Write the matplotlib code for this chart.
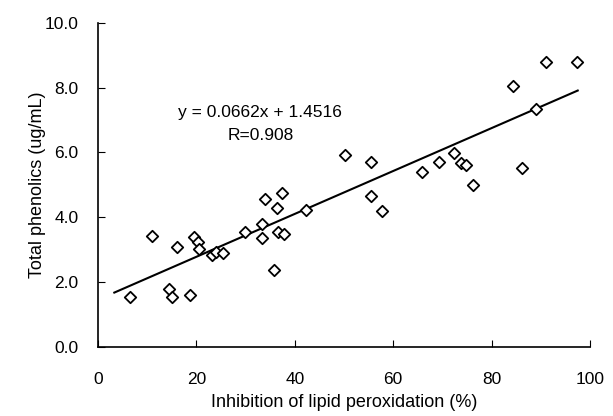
import matplotlib
matplotlib.use("Agg")
import matplotlib.pyplot as plt
import numpy as np

# --- datos ---
inhibicion = [6.5, 11.0, 14.5, 15.0, 16.0, 18.7, 19.5, 20.4, 20.6, 23.1, 24.0, 25.3,
              29.9, 33.3, 33.3, 33.9, 35.8, 36.4, 36.6, 37.3, 37.7, 42.2, 50.2, 55.4,
              55.4, 57.8, 65.9, 69.3, 72.4, 73.7, 74.7, 76.2, 84.3, 86.1, 89.0, 91.0, 97.4]
fenoles = [1.54, 3.42, 1.78, 1.54, 3.09, 1.60, 3.38, 3.24, 3.02, 2.83, 2.93, 2.88,
           3.55, 3.79, 3.35, 4.55, 2.38, 4.29, 3.55, 4.75, 3.48, 4.23, 5.92, 5.69,
           4.66, 4.20, 5.40, 5.70, 5.97, 5.68, 5.61, 4.99, 8.05, 5.52, 7.33, 8.80, 8.80]
pendiente = 0.0662
ordenada = 1.4516
r_valor = 0.908
rango_linea = [3.3, 97.5]

x_ticks = [0, 20, 40, 60, 80, 100]
y_ticks = [0, 2, 4, 6, 8, 10]

plt.rcParams['font.family'] = ['Liberation Sans', 'DejaVu Sans']

fig = plt.figure(figsize=(6.13, 4.16), dpi=100)
ax = fig.add_axes([0.160, 0.1666, 0.8025, 0.7788])

ax.scatter(inhibicion, fenoles, marker='D', s=34, facecolor='white',
           edgecolor='black', linewidth=1.3, zorder=3)

xl = np.array(rango_linea)
ax.plot(xl, pendiente * xl + ordenada, color='black', linewidth=1.5, zorder=2)

ax.text(33, 7.24, f"y = {pendiente}x + {ordenada}", fontsize=12.5, ha='center', va='center')
ax.text(33, 6.53, f"R={r_valor}", fontsize=12.5, ha='center', va='center')

ax.set_xlim(0, 100)
ax.set_ylim(0, 10)
ax.set_xticks(x_ticks)
ax.set_yticks(y_ticks)
ax.set_yticklabels([f"{v:.1f}" for v in y_ticks])
ax.tick_params(axis='x', direction='in', length=5, pad=18, labelsize=12.5)
ax.tick_params(axis='y', direction='in', length=5, pad=14, labelsize=12.5)

ax.spines['top'].set_visible(False)
ax.spines['right'].set_visible(False)
for s in ['left', 'bottom']:
    ax.spines[s].set_linewidth(1.2)

ax.set_xlabel("Inhibition of lipid peroxidation (%)", fontsize=13, labelpad=5)
ax.set_ylabel("Total phenolics (ug/mL)", fontsize=13, labelpad=-1)

fig.savefig("out.png", dpi=100)
